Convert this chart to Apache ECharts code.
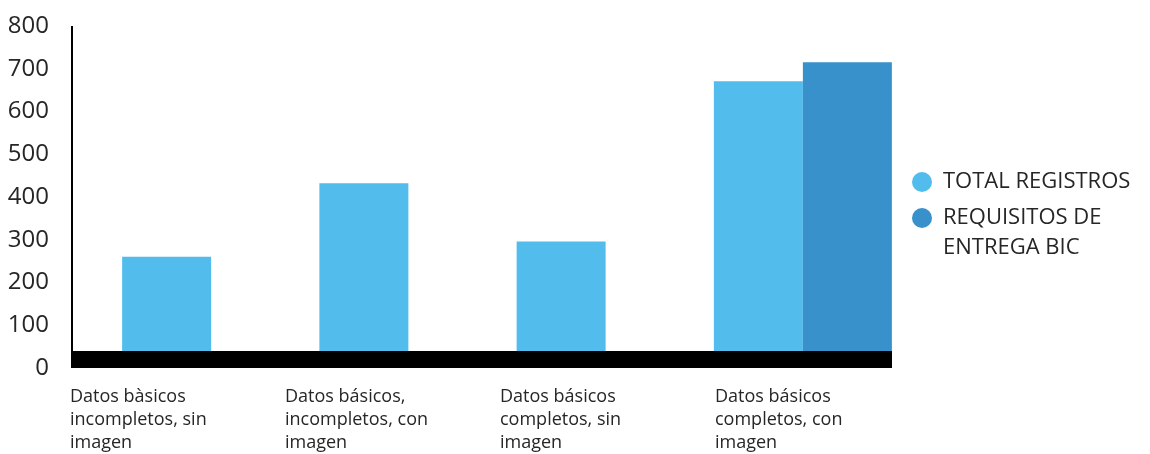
<!DOCTYPE html>
<html>
<head>
<meta charset="utf-8">
<script src="https://cdn.jsdelivr.net/npm/echarts@6/dist/echarts.min.js"></script>
<style>
html,body{margin:0;padding:0;background:#fff;}
#chart{width:1150px;height:454px;}
</style>
</head>
<body>
<div id="chart"></div>
<script>
// ---- data ----
const categories = [
  'Datos bàsicos\nincompletos, sin\nimagen',
  'Datos básicos,\nincompletos, con\nimagen',
  'Datos básicos\ncompletos, sin\nimagen',
  'Datos básicos\ncompletos, con\nimagen'
];
const seriesNames = ['TOTAL REGISTROS', 'REQUISITOS DE\nENTREGA BIC'];
const totalRegistros = [260, 432, 296, 671];
const requisitosBic = [null, null, null, 715];
const spacer = [null, null, null, null];
const yMin = 0, yMax = 800, yInterval = 100;

const FONT = 'Open Sans';
const TEXT = '#262626';
const chart = echarts.init(document.getElementById('chart'), null, {renderer: 'canvas'});

chart.setOption({
  animation: false,
  backgroundColor: '#ffffff',
  textStyle: {fontFamily: FONT},
  grid: [
    {left: 72, right: 258, top: 26, bottom: 86},
    {left: 68, right: 293, top: 26, bottom: 86},
    {left: 70, right: 220, top: 26, bottom: 86}
  ],
  xAxis: [
    {
      gridIndex: 0, type: 'category', data: categories, z: 10,
      offset: -8.5,
      axisLine: {show: true, lineStyle: {color: '#000', width: 17, cap: 'butt'}},
      axisTick: {show: false}, axisLabel: {show: false}, splitLine: {show: false}
    },
    {gridIndex: 1, type: 'category', data: categories, show: false},
    {
      gridIndex: 2, type: 'category', data: categories.concat(['']), boundaryGap: false,
      axisLine: {show: false}, axisTick: {show: false}, splitLine: {show: false},
      axisLabel: {interval: 0, align: 'left', margin: 20, fontSize: 18, lineHeight: 23,
                  color: TEXT, fontFamily: FONT}
    }
  ],
  yAxis: [
    {
      gridIndex: 0, type: 'value', min: yMin, max: yMax, interval: yInterval,
      axisLine: {show: true, lineStyle: {color: '#000', width: 2, cap: 'butt'}},
      axisTick: {show: false}, splitLine: {show: false},
      axisLabel: {fontSize: 24, color: TEXT, margin: 23, fontFamily: FONT}
    },
    {gridIndex: 1, type: 'value', min: yMin, max: yMax, show: false},
    {gridIndex: 2, type: 'value', min: yMin, max: yMax, show: false}
  ],
  legend: {
    orient: 'vertical', left: 907, top: 162, itemWidth: 20, itemHeight: 20, itemGap: -24,
    icon: 'circle',
    formatter: function (name) { return name === seriesNames[1] ? '\n' + name : name; },
    textStyle: {fontSize: 22, color: TEXT, fontFamily: FONT, lineHeight: 30, padding: [0, 0, 0, 6]},
    data: seriesNames
  },
  series: [
    {type: 'bar', xAxisIndex: 1, yAxisIndex: 1, data: spacer, barWidth: 89, barGap: '0%', silent: true},
    {name: seriesNames[0], type: 'bar', xAxisIndex: 1, yAxisIndex: 1, data: totalRegistros,
     barWidth: 89, barGap: '0%', clip: false, itemStyle: {color: '#52BDEC'}},
    {name: seriesNames[1], type: 'bar', xAxisIndex: 1, yAxisIndex: 1, data: requisitosBic,
     barWidth: 89, barGap: '0%', clip: false, itemStyle: {color: '#3891CB'}}
  ]
});
</script>
</body>
</html>
